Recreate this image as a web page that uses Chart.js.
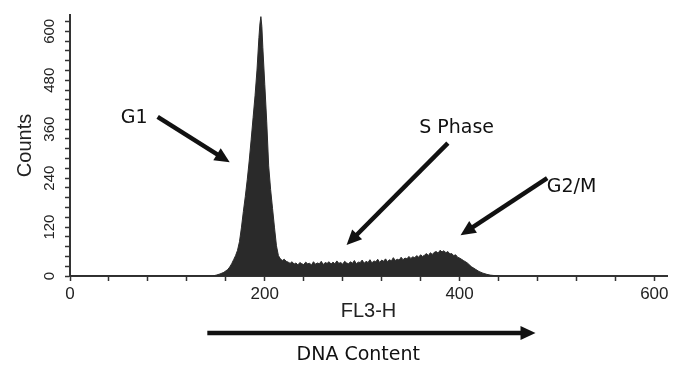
<!DOCTYPE html>
<html>
<head>
<meta charset="utf-8">
<script src="https://cdn.jsdelivr.net/npm/chart.js@4/dist/chart.umd.min.js"></script>
<style>
html, body { margin: 0; padding: 0; background: #fff; }
</style>
</head>
<body>
<canvas id="myChart" width="683" height="365"></canvas>
<script>
// FL3-H channel and counts
const fl3 = [0, 146, 150, 154, 158, 162, 164, 166, 168, 170, 172, 174, 176, 178, 180, 182, 184, 186, 188, 190,
  192, 194, 195, 196, 197, 198, 200, 202, 204, 206, 208, 210, 212, 214, 216, 218, 220, 222,
  224, 226, 228, 230, 232, 234, 236, 238, 240, 242, 244, 246, 248, 250, 252, 254, 256, 258, 260, 262,
  264, 266, 268, 270, 272, 274, 276, 278, 280, 282, 284, 286, 288, 290, 292, 294, 296, 298, 300, 302,
  304, 306, 308, 310, 312, 314, 316, 318, 320, 322, 324, 326, 328, 330, 332, 334, 336, 338, 340, 342,
  344, 346, 348, 350, 352, 354, 356, 358, 360, 362, 364, 366, 368, 370, 372, 374, 376, 378, 380, 382,
  384, 386, 388, 390, 392, 394, 396, 398, 400, 404, 408, 412, 416, 420, 424, 428, 432, 436, 440];
const counts = [0, 0, 2, 5, 9, 16, 22, 30, 40, 50, 63, 84, 118, 158, 195, 236, 282, 334, 388, 442,
  505, 585, 618, 636, 612, 560, 470, 378, 270, 212, 165, 118, 74, 50, 42, 38, 41, 36,
  34, 31, 35, 29, 32, 27, 33, 30, 28, 34, 30, 31, 27, 35, 29, 32, 30, 36, 28, 33,
  31, 35, 29, 34, 30, 37, 31, 33, 29, 36, 32, 30, 35, 31, 38, 30, 34, 33, 39, 31,
  36, 33, 40, 32, 37, 35, 41, 33, 39, 36, 42, 35, 40, 37, 45, 38, 41, 39, 46, 40,
  44, 42, 48, 43, 47, 45, 50, 46, 52, 48, 51, 55, 50, 57, 53, 58, 60, 56, 63, 59,
  62, 57, 60, 54, 55, 50, 52, 46, 44, 38, 32, 23, 17, 11, 7, 4, 2, 1, 0];
const xLabels = [0, 200, 400, 600];
const yLabels = [0, 120, 240, 360, 480, 600];

// annotations in data units: label centre, arrow tail, arrow tip
const notes = [
  { text: 'G1', at: [66, 387], from: [90, 390], to: [164, 279] },
  { text: 'S Phase', at: [397, 363], from: [388, 326], to: [284, 76] },
  { text: 'G2/M', at: [515, 218], from: [490, 240], to: [401, 100] },
  { text: 'DNA Content', at: [296, -194], from: [141, -140], to: [478, -140] }
];

function drawArrow(ctx, x1, y1, x2, y2) {
  const a = Math.atan2(y2 - y1, x2 - x1);
  const head = 15, half = 7;
  ctx.lineWidth = 4.5;
  ctx.beginPath();
  ctx.moveTo(x1, y1);
  ctx.lineTo(x2 - Math.cos(a) * head * 0.8, y2 - Math.sin(a) * head * 0.8);
  ctx.stroke();
  ctx.beginPath();
  ctx.moveTo(x2, y2);
  ctx.lineTo(x2 - Math.cos(a) * head - Math.sin(a) * half, y2 - Math.sin(a) * head + Math.cos(a) * half);
  ctx.lineTo(x2 - Math.cos(a) * head + Math.sin(a) * half, y2 - Math.sin(a) * head - Math.cos(a) * half);
  ctx.closePath();
  ctx.fill();
}

const arrows = {
  id: 'arrows',
  afterDraw(chart) {
    const ctx = chart.ctx, xs = chart.scales.x, ys = chart.scales.y;
    ctx.save();
    ctx.fillStyle = '#111';
    ctx.strokeStyle = '#111';
    ctx.font = '19px "DejaVu Sans"';
    ctx.textAlign = 'center';
    ctx.textBaseline = 'middle';
    notes.forEach(n => {
      ctx.fillText(n.text, xs.getPixelForValue(n.at[0]), ys.getPixelForValue(n.at[1]));
      drawArrow(ctx, xs.getPixelForValue(n.from[0]), ys.getPixelForValue(n.from[1]),
        xs.getPixelForValue(n.to[0]), ys.getPixelForValue(n.to[1]));
    });
    ctx.restore();
  }
};

const ctx = document.getElementById('myChart').getContext('2d');
const myChart = new Chart(ctx, {
  type: 'line',
  data: {
    datasets: [{
      label: 'Counts',
      data: fl3.map((v, i) => ({ x: v, y: counts[i] })),
      borderColor: '#2a2a2a',
      backgroundColor: '#2a2a2a',
      borderWidth: 1,
      pointRadius: 0,
      tension: 0,
      fill: 'origin'
    }]
  },
  options: {
    responsive: false,
    animation: false,
    devicePixelRatio: 1,
    layout: { padding: { left: 0, right: 16, top: 15, bottom: 44 } },
    plugins: { legend: { display: false }, tooltip: { enabled: false } },
    scales: {
      x: {
        type: 'linear',
        min: 0,
        max: 613,
        afterFit: s => { s.height = 45; },
        border: { color: '#333', width: 2 },
        grid: { drawOnChartArea: false, tickLength: 5, color: '#333', tickWidth: 1.5 },
        ticks: {
          stepSize: 40,
          includeBounds: false,
          autoSkip: false,
          maxRotation: 0,
          padding: 3,
          color: '#222',
          font: { family: '"Liberation Sans"', size: 17 },
          callback: v => xLabels.includes(v) ? v : ''
        },
        title: { display: true, text: 'FL3-H', color: '#222', padding: 0,
          font: { family: '"Liberation Sans"', size: 20, lineHeight: 1 } }
      },
      y: {
        min: 0,
        max: 640,
        afterFit: s => { s.width = 70; },
        border: { color: '#333', width: 2 },
        grid: { drawOnChartArea: false, tickLength: 5, color: '#333', tickWidth: 1.5 },
        ticks: {
          stepSize: 24,
          includeBounds: false,
          autoSkip: false,
          minRotation: 90,
          maxRotation: 90,
          crossAlign: 'center',
          padding: 3,
          color: '#222',
          font: { family: '"Liberation Sans"', size: 15 },
          callback: v => yLabels.includes(v) ? v : ''
        },
        title: { display: true, text: 'Counts', color: '#222', padding: { top: 13, bottom: 0 },
          font: { family: '"Liberation Sans"', size: 20, lineHeight: 1.2 } }
      }
    }
  },
  plugins: [arrows]
});
</script>
</body>
</html>
